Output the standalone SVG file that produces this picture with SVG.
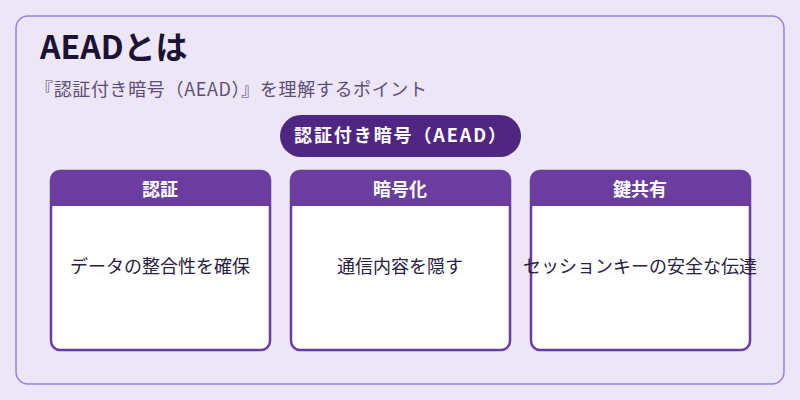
<svg xmlns="http://www.w3.org/2000/svg" width="800" height="400" viewBox="0 0 800 400">
<style>
text{font-family:"Noto Sans CJK JP","Noto Sans",sans-serif}
.card{fill:#fff;stroke:#6a3d9e;stroke-width:2.5}
.hdr{fill:#6a3d9e}
.ht{fill:#fff;font-size:18px;font-weight:bold;text-anchor:middle}
.bt{fill:#2a2040;font-size:18px;text-anchor:middle}
</style>
<rect width="800" height="400" fill="#ede6f6"/>
<rect x="16" y="16" width="768" height="368" rx="12" fill="#ede6f6" stroke="#9d80d2" stroke-width="1.5"/>
<text x="40" y="59" font-size="32" font-weight="bold" fill="#1c1233">AEADとは</text>
<text x="35" y="96" font-size="18" fill="#5d4e78" textLength="392">『認証付き暗号（AEAD）』を理解するポイント</text>
<g id="top"><rect x="280" y="115" width="241" height="42" rx="21" fill="#4f2783"/>
<text x="400" y="142" class="ht" textLength="212">認証付き暗号（AEAD）</text></g>
<g id="connectors"></g>
<g id="n1"><rect x="51" y="171" width="219" height="179" rx="9" class="card"/>
<path d="M51 206V180a9 9 0 0 1 9-9h201a9 9 0 0 1 9 9v26z" class="hdr"/>
<text x="160" y="196" class="ht">認証</text><text x="160" y="273" class="bt">データの整合性を確保</text></g>
<g id="n2"><rect x="291" y="171" width="219" height="179" rx="9" class="card"/>
<path d="M291 206V180a9 9 0 0 1 9-9h201a9 9 0 0 1 9 9v26z" class="hdr"/>
<text x="400" y="196" class="ht">暗号化</text><text x="400" y="273" class="bt">通信内容を隠す</text></g>
<g id="n3"><rect x="531" y="171" width="219" height="179" rx="9" class="card"/>
<path d="M531 206V180a9 9 0 0 1 9-9h201a9 9 0 0 1 9 9v26z" class="hdr"/>
<text x="640" y="196" class="ht">鍵共有</text><text x="640" y="273" class="bt">セッションキーの安全な伝達</text></g>
</svg>
